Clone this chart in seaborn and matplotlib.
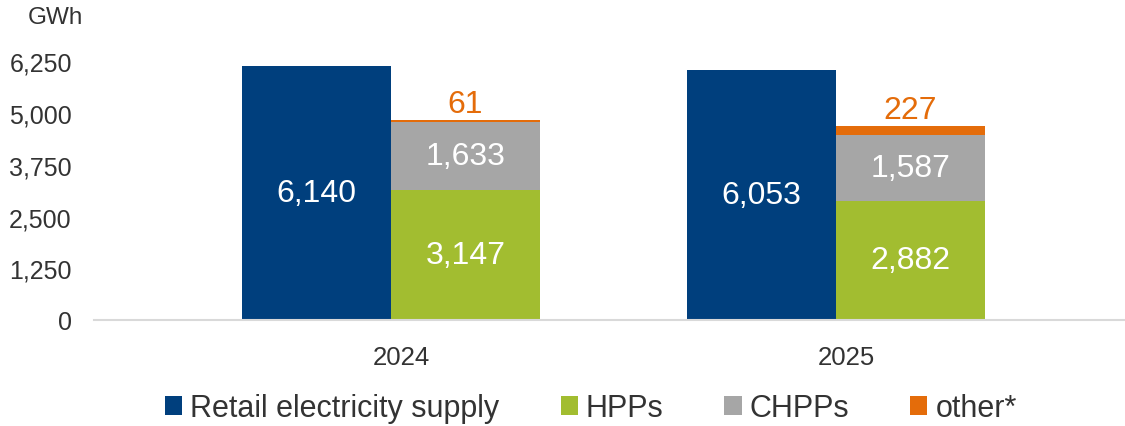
import numpy as np
import matplotlib
matplotlib.use("Agg")
import matplotlib.pyplot as plt
import matplotlib.transforms as mtransforms
import seaborn as sns
from matplotlib.patches import Patch

years = ["2024", "2025"]
retail = [6140, 6053]
hpps = [3147, 2882]
chpps = [1633, 1587]
other = [61, 227]
yticks = [0, 1250, 2500, 3750, 5000, 6250]
legend_labels = ["Retail electricity supply", "HPPs", "CHPPs", "other*"]

c_retail = "#003F7D"
c_hpp = "#A2BD30"
c_chpp = "#A6A6A6"
c_other = "#E46C0A"
txt = "#333333"

sns.set_theme(style="white")
plt.rcParams["font.family"] = ["Liberation Sans", "DejaVu Sans"]

fig = plt.figure(figsize=(11.25, 4.27), dpi=100)
ax = fig.add_axes([94 / 1125, 106 / 427, 1 - 94 / 1125, 289.6 / 427])

pos = np.arange(len(years))
w = 0.335
x_r = pos - w / 2
x_s = pos + w / 2

ax.bar(x_r, retail, width=w, color=c_retail, linewidth=0)
ax.bar(x_s, hpps, width=w, color=c_hpp, linewidth=0)
b2 = np.array(hpps)
ax.bar(x_s, chpps, width=w, bottom=b2, color=c_chpp, linewidth=0)
b3 = b2 + np.array(chpps)
ax.bar(x_s, other, width=w, bottom=b3, color=c_other, linewidth=0)

fs_val = 23
for i in range(len(years)):
    ax.text(x_r[i], retail[i] / 2, f"{retail[i]:,}", ha="center", va="center",
            color="white", fontsize=fs_val)
    ax.text(x_s[i], hpps[i] / 2, f"{hpps[i]:,}", ha="center", va="center",
            color="white", fontsize=fs_val)
    ax.text(x_s[i], b2[i] + chpps[i] / 2, f"{chpps[i]:,}", ha="center", va="center",
            color="white", fontsize=fs_val)
    ax.annotate(f"{other[i]:,}", (x_s[i], b3[i] + other[i]), xytext=(0, 0.5),
                textcoords="offset points", ha="center", va="bottom",
                color=c_other, fontsize=fs_val)

ax.set_xlim((94 - 391) / 445, (1125 - 391) / 445)
ax.set_ylim(0, 7000)
ax.set_yticks(yticks)
ax.set_yticklabels([f"{v:,}" for v in yticks], color=txt, fontsize=18)
ax.set_xticks(pos)
ax.set_xticklabels(years, color=txt, fontsize=18.5)
ax.tick_params(axis="y", length=0, pad=16)
ax.tick_params(axis="x", length=0, pad=18)
shift = mtransforms.ScaledTranslation(0.10, 0, fig.dpi_scale_trans)
for lab in ax.get_xticklabels():
    lab.set_transform(lab.get_transform() + shift)
for s in ["top", "right", "left"]:
    ax.spines[s].set_visible(False)
ax.spines["bottom"].set_color("#D9D9D9")
ax.spines["bottom"].set_linewidth(1.5)
ax.grid(False)

fig.text(55 / 1125, 1 - 18 / 427, "GWh", ha="center", va="center",
         color=txt, fontsize=17.5)

handles = [Patch(facecolor=c, edgecolor="none") for c in [c_retail, c_hpp, c_chpp, c_other]]
fig.legend(handles, legend_labels, loc="center", bbox_to_anchor=(591 / 1125, 1 - 409 / 427),
           ncol=4, frameon=False, fontsize=22, handlelength=0.56, handleheight=0.56,
           handletextpad=0.26, columnspacing=2.0, labelcolor=txt, borderpad=0)

fig.savefig("out.png", dpi=100)
